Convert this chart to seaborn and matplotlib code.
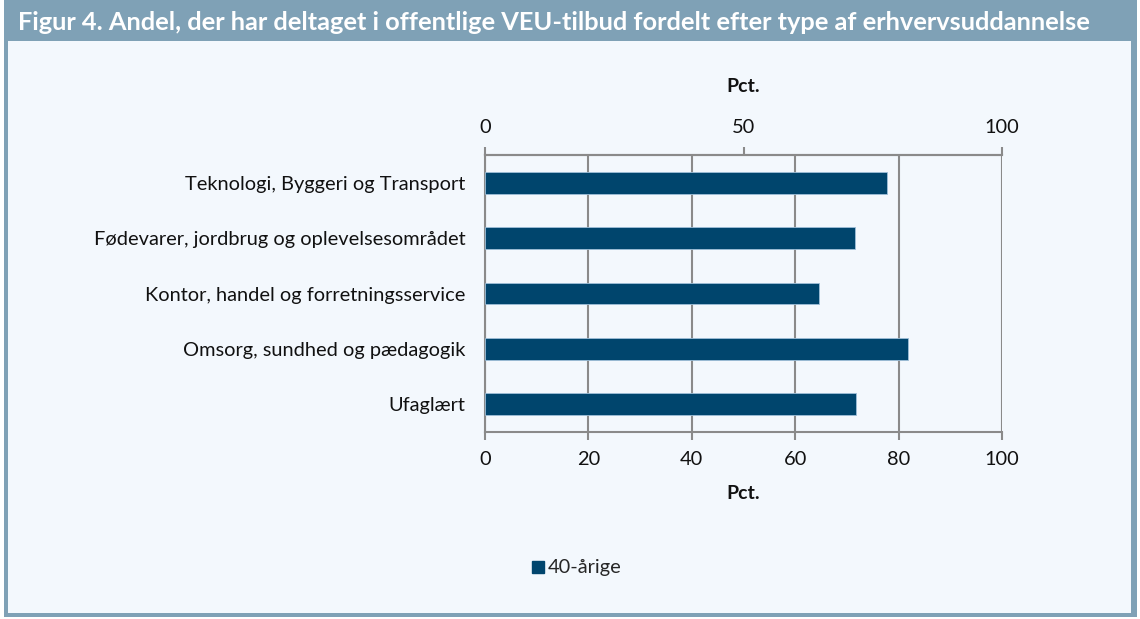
import matplotlib
matplotlib.use("Agg")
import matplotlib.pyplot as plt
import seaborn as sns
import pandas as pd
from matplotlib.patches import Rectangle
from matplotlib.lines import Line2D

categories = [
    "Teknologi, Byggeri og Transport",
    "Fødevarer, jordbrug og oplevelsesområdet",
    "Kontor, handel og forretningsservice",
    "Omsorg, sundhed og pædagogik",
    "Ufaglært",
]
values = [77.7, 71.5, 64.7, 81.8, 71.8]
series_name = "40-årige"
bottom_ticks = [0, 20, 40, 60, 80, 100]
top_ticks = [0, 50, 100]
title = "Figur 4. Andel, der har deltaget i offentlige VEU-tilbud fordelt efter type af erhvervsuddannelse"

sns.set_theme(style="white")
plt.rcParams['font.family'] = ['Lato', 'DejaVu Sans']

BAR = "#00456d"
GRID = "#8a8a8a"
FRAME = "#7fa1b6"
BG = "#f3f8fd"
FS = 14.4

W, H = 1140, 619
fig = plt.figure(figsize=(W / 100, H / 100), dpi=100)
fig.patch.set_facecolor("white")

def px(x0, y0, x1, y1, **kw):
    fig.add_artist(Rectangle((x0 / W, 1 - y1 / H), (x1 - x0) / W, (y1 - y0) / H,
                             transform=fig.transFigure, **kw))

px(4, 0, 1137, 617, facecolor=FRAME, edgecolor="none", zorder=-3)
px(8, 41, 1131, 613, facecolor=BG, edgecolor="none", zorder=-2)
fig.text(18 / W, 1 - 22 / H, title, color="white", fontsize=18.3, fontweight="bold",
         va="center", ha="left")

ax = fig.add_axes([485 / W, 1 - 432 / H, (1002 - 485) / W, (432 - 155) / H])
ax.set_facecolor(BG)
df = pd.DataFrame({"kategori": categories, "andel": values})
sns.barplot(data=df, x="andel", y="kategori", orient="h", color=BAR, width=0.39,
            saturation=1, edgecolor="#9fbfd8", linewidth=0.6, ax=ax, zorder=3)

ax.set_xlim(0, 100)
ax.set_ylim(4.5, -0.5)
ax.set_xticks(bottom_ticks)
ax.set_xticklabels([str(t) for t in bottom_ticks], fontsize=FS, color="#111111")
ax.xaxis.grid(True, color=GRID, linewidth=1.5, zorder=0)
ax.yaxis.grid(False)
ax.set_yticks(range(len(categories)))
ax.set_yticklabels(categories, fontsize=FS, color="#111111")
ax.set_yticks([i - 0.5 for i in range(len(categories) + 1)], minor=True)
ax.tick_params(axis="y", which="major", length=0, pad=14)
ax.tick_params(axis="y", which="minor", length=6, width=1.5, color=GRID, direction="out")
ax.tick_params(axis="x", which="major", length=6, width=1.5, color=GRID,
               direction="out", bottom=True, pad=8)
ax.set_xlabel("Pct.", fontsize=14, fontweight="bold", labelpad=12, color="#111111")
ax.set_ylabel("")
for side in ["left", "bottom", "top"]:
    ax.spines[side].set_visible(True)
    ax.spines[side].set_color(GRID)
    ax.spines[side].set_linewidth(1.5)
ax.spines["right"].set_visible(False)

sec = ax.secondary_xaxis("top")
sec.set_xticks(top_ticks)
sec.set_xticklabels([str(t) for t in top_ticks], fontsize=FS, color="#111111")
sec.tick_params(axis="x", length=6, width=1.5, color=GRID, direction="out", pad=8)
sec.spines["top"].set_color(GRID)
sec.spines["top"].set_linewidth(1.5)
sec.set_xlabel("Pct.", fontsize=14, fontweight="bold", labelpad=19, color="#111111")

handle = Line2D([], [], marker="s", linestyle="none", markersize=8.5,
                markerfacecolor=BAR, markeredgecolor=BAR)
fig.legend([handle], [series_name], loc="center", bbox_to_anchor=(575 / W, 1 - 568 / H),
           frameon=False, fontsize=FS, handletextpad=0.0, handlelength=1.0)

fig.savefig("out.png", dpi=100, facecolor=fig.get_facecolor())
